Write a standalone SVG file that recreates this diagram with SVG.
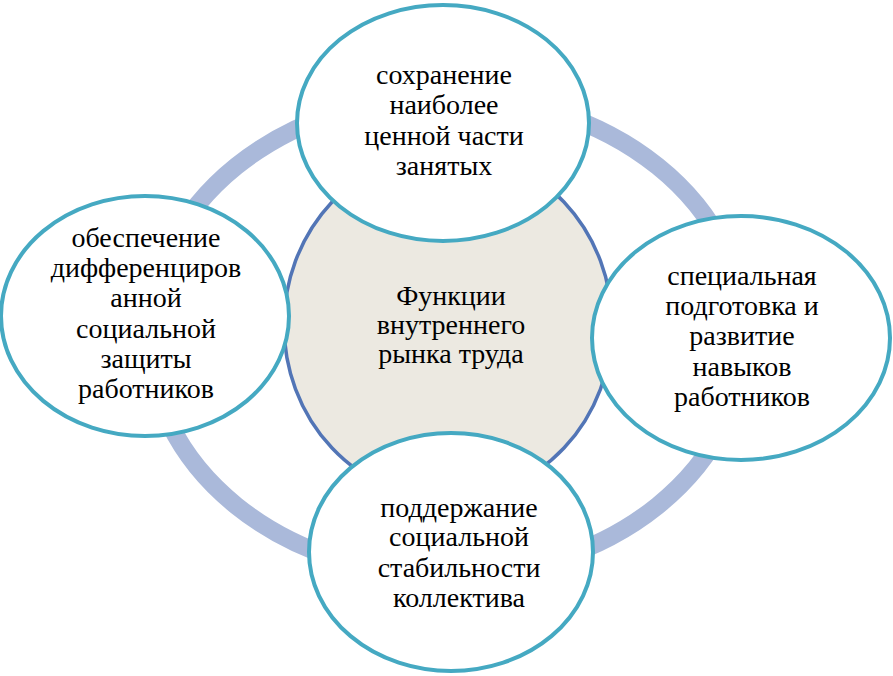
<svg xmlns="http://www.w3.org/2000/svg" width="893" height="676" viewBox="0 0 893 676">
<style>
.ring{fill:none;stroke:#aab9da;stroke-width:18}
.hub{fill:#ece9e1;stroke:#5275b6;stroke-width:3.5}
.sat{fill:#ffffff;stroke:#45a9c2;stroke-width:4}
.t{font-family:'Liberation Serif','Times New Roman','DejaVu Serif',serif;font-size:28px;fill:#000;text-anchor:middle}
</style>
<rect width="893" height="676" fill="#ffffff"/>
<g id="connectors">
<ellipse class="ring" cx="447" cy="336" rx="298" ry="240"/>
</g>
<g id="center">
<ellipse class="hub" cx="448" cy="325" rx="164" ry="174"/>
<text class="t" x="451" y="305">Функции</text>
<text class="t" x="451" y="334">внутреннего</text>
<text class="t" x="451" y="363">рынка труда</text>
</g>
<g id="top">
<ellipse class="sat" cx="443" cy="123" rx="146" ry="118"/>
<text class="t" x="444" y="84">сохранение</text>
<text class="t" x="444" y="114">наиболее</text>
<text class="t" x="444" y="145">ценной части</text>
<text class="t" x="444" y="175">занятых</text>
</g>
<g id="left">
<ellipse class="sat" cx="145" cy="316" rx="144" ry="120"/>
<text class="t" x="146" y="247">обеспечение</text>
<text class="t" x="146" y="277">дифференциров</text>
<text class="t" x="146" y="307">анной</text>
<text class="t" x="146" y="338">социальной</text>
<text class="t" x="146" y="368">защиты</text>
<text class="t" x="146" y="398">работников</text>
</g>
<g id="right">
<ellipse class="sat" cx="741" cy="338" rx="149" ry="122"/>
<text class="t" x="742" y="285">специальная</text>
<text class="t" x="742" y="315">подготовка и</text>
<text class="t" x="742" y="345">развитие</text>
<text class="t" x="742" y="376">навыков</text>
<text class="t" x="742" y="406">работников</text>
</g>
<g id="bottom">
<ellipse class="sat" cx="451" cy="552" rx="142" ry="119"/>
<text class="t" x="459" y="517">поддержание</text>
<text class="t" x="459" y="546">социальной</text>
<text class="t" x="459" y="577">стабильности</text>
<text class="t" x="459" y="607">коллектива</text>
</g>
</svg>
